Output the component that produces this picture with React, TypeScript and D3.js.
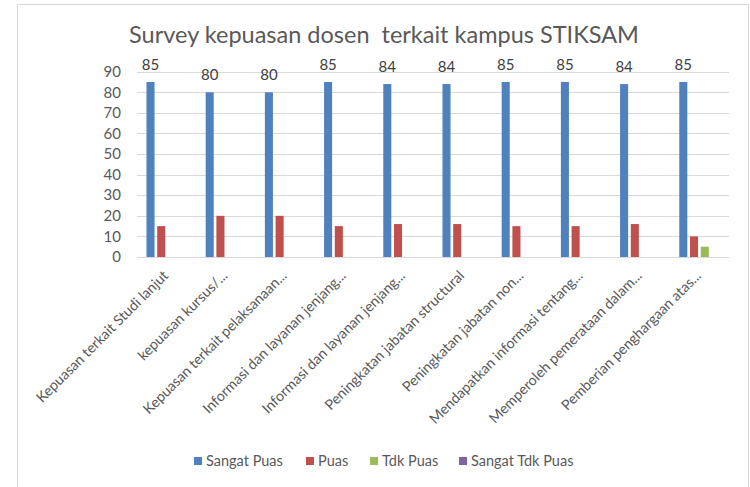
import React, { useEffect, useRef } from 'react';
import * as d3 from 'd3';

const categories = [
  'Kepuasan terkait Studi lanjut',
  'kepuasan kursus/...',
  'Kepuasan terkait pelaksanaan...',
  'Informasi dan layanan jenjang...',
  'Informasi dan layanan jenjang...',
  'Peningkatan jabatan structural',
  'Peningkatan jabatan non...',
  'Mendapatkan informasi tentang...',
  'Memperoleh pemerataan dalam...',
  'Pemberian penghargaan atas...',
];

const seriesNames = ['Sangat Puas', 'Puas', 'Tdk Puas', 'Sangat Tdk Puas'];
const seriesColors = ['#4F81BD', '#C0504D', '#9BBB59', '#8064A2'];

const sangatPuas = [85, 80, 80, 85, 84, 84, 85, 85, 84, 85];
const puas = [15, 20, 20, 15, 16, 16, 15, 15, 16, 10];
const tdkPuas = [0, 0, 0, 0, 0, 0, 0, 0, 0, 5];
const sangatTdkPuas = [0, 0, 0, 0, 0, 0, 0, 0, 0, 0];

const yTicks = [0, 10, 20, 30, 40, 50, 60, 70, 80, 90];

const FONT = 'Lato, "Open Sans", sans-serif';

const App = () => {
  const ref = useRef(null);

  useEffect(() => {
    drawChart();
  }, []);

  const drawChart = () => {
    const svg = d3.select(ref.current);
    svg.selectAll('*').remove();

    const series = [sangatPuas, puas, tdkPuas, sangatTdkPuas];

    // cadre du graphique
    svg.append('rect')
      .attr('x', 17.5).attr('y', 4.5)
      .attr('width', 731).attr('height', 500)
      .attr('fill', '#fff')
      .attr('stroke', '#d9d9d9');

    svg.append('text')
      .attr('x', 384).attr('y', 43)
      .attr('text-anchor', 'middle')
      .attr('font-family', FONT)
      .attr('font-size', 23.5)
      .attr('fill', '#595959')
      .text('Survey kepuasan dosen  terkait kampus STIKSAM')
      .style('white-space', 'pre');

    const left = 137, right = 729, top = 71.7, bottom = 257;

    const x0 = d3.scaleBand()
      .domain(categories.map((_, i) => i))
      .range([left, right])
      .paddingInner(0.32)
      .paddingOuter(0.16);

    const x1 = d3.scaleBand()
      .domain(seriesNames.map((_, i) => i))
      .range([0, x0.bandwidth()])
      .paddingInner(0.25);

    const y = d3.scaleLinear().domain([0, 90]).range([bottom, top]);

    // grille
    svg.append('g')
      .selectAll('line')
      .data(yTicks)
      .enter().append('line')
      .attr('x1', left).attr('x2', right)
      .attr('y1', d => Math.round(y(d)) + 0.5)
      .attr('y2', d => Math.round(y(d)) + 0.5)
      .attr('stroke', '#d9d9d9')
      .attr('stroke-width', 1);

    svg.append('g')
      .selectAll('text')
      .data(yTicks)
      .enter().append('text')
      .attr('x', 121)
      .attr('y', d => y(d))
      .attr('dy', '0.35em')
      .attr('text-anchor', 'end')
      .attr('font-family', FONT)
      .attr('font-size', 15)
      .attr('fill', '#595959')
      .text(d => d);

    const groups = svg.append('g')
      .selectAll('g')
      .data(categories.map((_, i) => i))
      .enter().append('g')
      .attr('transform', i => `translate(${x0(i)},0)`);

    groups.selectAll('rect')
      .data(i => series.map((s, k) => ({ k, v: s[i] })))
      .enter().append('rect')
      .attr('x', d => x1(d.k))
      .attr('width', x1.bandwidth())
      .attr('y', d => y(d.v))
      .attr('height', d => bottom - y(d.v))
      .attr('fill', d => seriesColors[d.k]);

    // étiquettes de données (Sangat Puas)
    groups.append('text')
      .attr('x', x1(0) + x1.bandwidth() / 2)
      .attr('y', i => y(sangatPuas[i]) - 12)
      .attr('text-anchor', 'middle')
      .attr('font-family', FONT)
      .attr('font-size', 15)
      .attr('fill', '#404040')
      .text(i => sangatPuas[i]);

    // étiquettes de l'axe X
    svg.append('g')
      .selectAll('text')
      .data(categories)
      .enter().append('text')
      .attr('transform', (_, i) => `translate(${x0(i) + x0.bandwidth() / 2 - 1},${bottom + 16}) rotate(-45)`)
      .attr('text-anchor', 'end')
      .attr('dy', '0.35em')
      .attr('font-family', FONT)
      .attr('font-size', 14.3)
      .attr('fill', '#595959')
      .text(d => d);

    // légende
    const legendX = [194, 306, 370, 459];
    const legend = svg.append('g')
      .selectAll('g')
      .data(seriesNames)
      .enter().append('g')
      .attr('transform', (_, i) => `translate(${legendX[i]},457)`);
    legend.append('rect')
      .attr('width', 8).attr('height', 8)
      .attr('fill', (_, i) => seriesColors[i]);
    legend.append('text')
      .attr('x', 12).attr('y', 4)
      .attr('dy', '0.35em')
      .attr('font-family', FONT)
      .attr('font-size', 14.5)
      .attr('fill', '#595959')
      .text(d => d);
  };

  return (
    <svg ref={ref} width={750} height={487}
      style={{ position: 'absolute', left: 0, top: 0, display: 'block' }} />
  );
};

export default App;
